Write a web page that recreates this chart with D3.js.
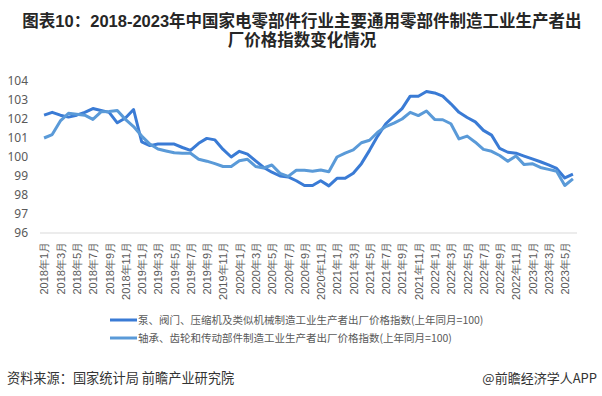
<!DOCTYPE html>
<html>
<head>
<meta charset="utf-8">
<script src="https://cdn.jsdelivr.net/npm/d3@7"></script>
<style>
  body { margin: 0; background: #fff; }
  svg { font-family: "Noto Sans CJK SC", "Noto Sans", sans-serif; }
</style>
</head>
<body>
<div id="chart"></div>
<script>
var width = 602,
    height = 396;

// categories: 2018年1月 .. 2023年6月
var months = [];
for (var y = 2018; y <= 2023; y++) {
    for (var m = 1; m <= 12; m++) {
        if (y === 2023 && m > 6) break;
        months.push(y + "年" + m + "月");
    }
}

var titleLines = [
    "图表10：2018-2023年中国家电零部件行业主要通用零部件制造工业生产者出",
    "厂价格指数变化情况"
];

var seriesNames = [
    "泵、阀门、压缩机及类似机械制造工业生产者出厂价格指数(上年同月=100)",
    "轴承、齿轮和传动部件制造工业生产者出厂价格指数(上年同月=100)"
];

var pumpValues = [
    102.2, 102.35, 102.2, 102.1, 102.2, 102.35, 102.55, 102.45, 102.35, 101.8, 102.05, 102.5,
    100.8, 100.6, 100.68, 100.68, 100.68, 100.5, 100.35, 100.72, 100.98, 100.9, 100.4, 100.0,
    100.3, 100.15, 99.8, 99.45, 99.2, 99.0, 98.95, 98.75, 98.5, 98.5, 98.75, 98.48,
    98.88, 98.88, 99.15, 99.65, 100.35, 101.1, 101.75, 102.15, 102.55, 103.2, 103.2, 103.45,
    103.37, 103.2, 102.8, 102.35, 102.08, 101.85, 101.4, 101.15, 100.45, 100.25, 100.2, 100.05,
    99.9, 99.75, 99.58, 99.4, 98.9, 99.1
];

var bearingValues = [
    101.0, 101.18, 101.9, 102.3, 102.25, 102.2, 101.98, 102.38, 102.4, 102.45, 101.98, 101.6,
    101.1, 100.68, 100.42, 100.32, 100.22, 100.2, 100.2, 99.88, 99.78, 99.65, 99.5, 99.5,
    99.8, 99.88, 99.5, 99.42, 99.58, 99.14, 98.98, 99.3, 99.3, 99.25, 99.32, 99.22,
    100.0, 100.2, 100.37, 100.75, 100.88, 101.3, 101.6, 101.78, 102.0, 102.35, 102.18, 102.42,
    101.98, 101.96, 101.75, 100.95, 101.1, 100.78, 100.4, 100.3, 100.08, 99.78, 100.05, 99.6,
    99.65, 99.45, 99.35, 99.25, 98.5, 98.85
];

var yTicks = [96, 97, 98, 99, 100, 101, 102, 103, 104];

var colors = ["#3a7bd5", "#5a9ad8"];

var svg = d3.select("#chart").append("svg")
    .attr("width", width)
    .attr("height", height);

svg.append("rect").attr("width", width).attr("height", height).attr("fill", "#fff");

// title, two lines (latin font first keeps the line box tight)
svg.selectAll(".title")
    .data(titleLines)
    .enter().append("text")
    .attr("class", "title")
    .attr("x", 302)
    .attr("y", function (d, i) { return 27 + i * 18.5; })
    .attr("text-anchor", "middle")
    .attr("font-family", "'Liberation Sans', 'Noto Sans CJK SC', sans-serif")
    .attr("font-size", "16.5px")
    .attr("font-weight", "bold")
    .attr("fill", "#262626")
    .text(function (d) { return d; });

var x = d3.scalePoint()
    .domain(months)
    .range([40, 577])
    .padding(0.5);

var yScale = d3.scaleLinear()
    .domain([96, 104])
    .range([233, 81]);

// y labels
svg.append("g")
    .attr("transform", "translate(40,0)")
    .call(d3.axisLeft(yScale).tickValues(yTicks).tickSize(0).tickPadding(12))
    .call(function (g) { g.select(".domain").remove(); })
    .selectAll("text")
    .attr("font-size", "12px")
    .attr("fill", "#595959")
    .attr("font-family", "Noto Sans, sans-serif");

// x axis
var xAxis = svg.append("g")
    .attr("transform", "translate(0,233)")
    .call(d3.axisBottom(x)
        .tickValues(months.filter(function (d, i) { return i % 2 === 0; }))
        .tickSize(0));

xAxis.select(".domain").attr("stroke", "#d9d9d9").attr("d", "M40,0H577");

xAxis.selectAll("text")
    .attr("transform", "rotate(-90)")
    .attr("text-anchor", "end")
    .attr("x", -9)
    .attr("y", 0)
    .attr("dy", "0.35em")
    .attr("font-size", "11px")
    .attr("fill", "#595959");

// lines
var line = d3.line()
    .x(function (d, i) { return x(months[i]); })
    .y(function (d) { return yScale(d); });

[pumpValues, bearingValues].forEach(function (vals, k) {
    svg.append("path")
        .datum(vals)
        .attr("fill", "none")
        .attr("stroke", colors[k])
        .attr("stroke-width", 3)
        .attr("stroke-linejoin", "round")
        .attr("d", line);
});

// legend
var legend = svg.append("g");
seriesNames.forEach(function (name, k) {
    var ly = 320 + k * 18;
    legend.append("line")
        .attr("x1", 110).attr("x2", 137)
        .attr("y1", ly).attr("y2", ly)
        .attr("stroke", colors[k])
        .attr("stroke-width", 3);
    legend.append("text")
        .attr("x", 138).attr("y", ly)
        .attr("dy", "0.35em")
        .attr("font-size", "10.5px")
        .attr("fill", "#595959")
        .text(name);
});

// footer
svg.append("text")
    .attr("x", 7).attr("y", 383)
    .attr("font-size", "13.2px")
    .attr("fill", "#333")
    .text("资料来源：国家统计局 前瞻产业研究院");

svg.append("text")
    .attr("x", 597).attr("y", 383)
    .attr("text-anchor", "end")
    .attr("font-size", "13px")
    .attr("fill", "#333")
    .text("@前瞻经济学人APP");
</script>
</body>
</html>
